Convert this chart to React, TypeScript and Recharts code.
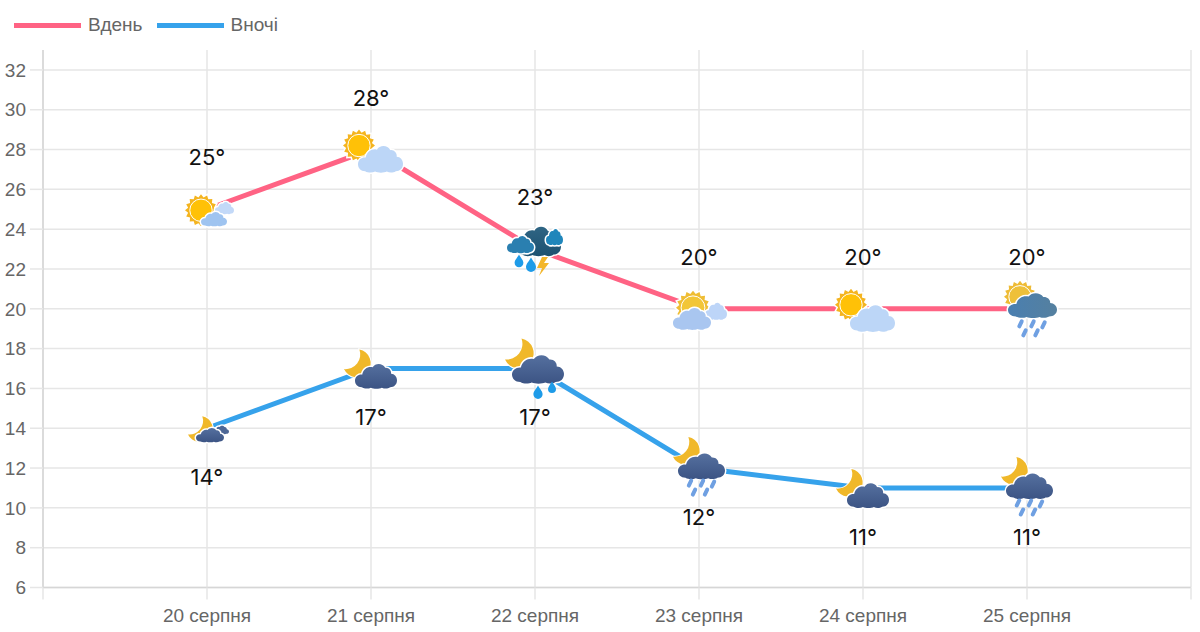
import React from 'react';
import { LineChart, Line, XAxis, YAxis, CartesianGrid, Legend, LabelList } from 'recharts';

const categories = ['20 серпня', '21 серпня', '22 серпня', '23 серпня', '24 серпня', '25 серпня'];
const dayTemps = [25, 28, 23, 20, 20, 20];
const nightTemps = [14, 17, 17, 12, 11, 11];
const dayIcons = ['sunSmall', 'sunCloud', 'storm', 'sunBehind', 'sunCloud', 'sunRain'];
const nightIcons = ['moonSmall', 'moonCloud', 'moonDrops', 'moonRain', 'moonCloud', 'moonRain'];
const yTicks = [6, 8, 10, 12, 14, 16, 18, 20, 22, 24, 26, 28, 30, 32];

// blank category on each side, the lines don't reach the chart edges
const tableData = [
  { name: '' },
  ...categories.map((name, i) => ({
    name,
    day: dayTemps[i],
    night: nightTemps[i],
    dayIcon: dayIcons[i],
    nightIcon: nightIcons[i],
  })),
  { name: ' ' },
];

const GRID = '#e6e6e6';
const AXIS = '#d6d6d6';
const TEXT = '#666666';
const tickFont = { fontFamily: '"Liberation Sans", sans-serif', fontSize: 19, fill: TEXT };
const labelFont = { fontFamily: 'Inter, sans-serif', fontSize: 22, fill: '#111111' };

const CLOUD =
  'M16 57 C6 57 0 50 0 42 C0 33 8 27 17 28 C20 14 32 8 42 11 C48 1 65 0 72 12 C80 11 87 18 86 26 C94 26 100 33 100 41 C100 51 93 57 84 57 C78 61 70 61 64 58 C58 61 44 61 38 58 C32 61 22 61 16 57 Z';

const Cloud = ({ x, y, w, h, fill }: any) => (
  <path
    d={CLOUD}
    transform={`translate(${x} ${y}) scale(${w / 100} ${h / 60})`}
    fill={fill}
    stroke="#ffffff"
    strokeWidth={3}
    paintOrder="stroke"
    vectorEffect="non-scaling-stroke"
  />
);

const Sun = ({ x, y, r, fill = '#ffc107', rays = '#f4b41f' }: any) => {
  const pts: string[] = [];
  for (let i = 0; i < 32; i++) {
    const rad = i % 2 ? r * 0.82 : r;
    const a = (i * Math.PI) / 16;
    pts.push(`${x + rad * Math.cos(a)},${y + rad * Math.sin(a)}`);
  }
  return (
    <g>
      <polygon points={pts.join(' ')} fill={rays} stroke="#ffffff" strokeWidth={3} paintOrder="stroke" />
      <circle cx={x} cy={y} r={r * 0.7} fill={fill} stroke="#ffffff" strokeWidth={1} />
    </g>
  );
};

const Moon = ({ x, y, r }: any) => (
  <path
    d="M0.1 -1 A1 1 0 1 1 -1 0.4 A1.05 1.05 0 0 0 0.1 -1 Z"
    transform={`translate(${x} ${y}) scale(${r})`}
    fill="#f0b82a"
    stroke="#ffffff"
    strokeWidth={2}
    paintOrder="stroke"
    vectorEffect="non-scaling-stroke"
  />
);

const Drop = ({ x, y, s, fill = '#1e9be8' }: any) => (
  <path
    d="M0 -1.5 C0.5 -0.6 1 -0.2 1 0.4 A1 1 0 0 1 -1 0.4 C-1 -0.2 -0.5 -0.6 0 -1.5 Z"
    transform={`translate(${x} ${y}) scale(${s})`}
    fill={fill}
  />
);

const Rain = ({ x, y, fill = '#6fa0e2' }: any) => {
  const dash = (dx: number, dy: number) => (
    <line x1={x + dx - 1.2} y1={y + dy + 2.5} x2={x + dx + 1.2} y2={y + dy - 2.5} />
  );
  return (
    <g stroke={fill} strokeWidth={4} strokeLinecap="round">
      {dash(-12, 3)}
      {dash(0, 3)}
      {dash(11, 4)}
      {dash(-8, 12)}
      {dash(4, 12)}
    </g>
  );
};

const WeatherIcon = ({ kind, cx, cy }: any) => {
  switch (kind) {
    case 'sunSmall':
      return (
        <g>
          <Sun x={cx - 6} y={cy + 1} r={16} />
          <Cloud x={cx + 8} y={cy - 8} w={19} h={13} fill="#c3d9f8" />
          <Cloud x={cx - 6} y={cy + 2} w={26} h={15} fill="#9fc4f0" />
        </g>
      );
    case 'sunCloud':
      return (
        <g>
          <Sun x={cx - 12} y={cy - 4} r={16} />
          <Cloud x={cx - 13} y={cy - 5} w={45} h={28} fill="#bcd6f7" />
        </g>
      );
    case 'sunBehind':
      return (
        <g>
          <Sun x={cx - 6} y={cy - 1} r={17} fill="#f2c637" rays="#efbd33" />
          <Cloud x={cx + 6} y={cy - 7} w={22} h={18} fill="#bdd5f8" />
          <Cloud x={cx - 26} y={cy - 2} w={38} h={23} fill="#a9c6f0" />
        </g>
      );
    case 'sunRain':
      return (
        <g>
          <Sun x={cx - 7} y={cy - 12} r={16} fill="#eec03a" rays="#eebb35" />
          <Cloud x={cx - 19} y={cy - 17} w={49} h={26} fill="url(#rainCloud)" />
          <Rain x={cx + 5.5} y={cy + 12} />
        </g>
      );
    case 'storm':
      return (
        <g>
          <Cloud x={cx - 20} y={cy - 24} w={46} h={31} fill="url(#stormCloud)" />
          <Cloud x={cx + 11} y={cy - 21} w={17} h={17} fill="#1f86bb" />
          <Cloud x={cx - 28} y={cy - 14} w={27} h={18} fill="#2a7fb0" />
          <Drop x={cx - 16} y={cy + 12} s={4.4} />
          <Drop x={cx - 4} y={cy + 16} s={5} />
          <path
            d={`M${cx + 7} ${cy + 8} l-5 11 h5 l-3 8 l10 -13 h-5 l4 -6 Z`}
            fill="#f3b62b"
          />
        </g>
      );
    case 'moonSmall':
      return (
        <g>
          <Moon x={cx - 6} y={cy + 1} r={13} />
          <Cloud x={cx + 6} y={cy - 3} w={16} h={9} fill="#4d6796" />
          <Cloud x={cx - 11} y={cy - 1} w={28} h={15} fill="url(#nightCloud)" />
        </g>
      );
    case 'moonCloud':
      return (
        <g>
          <Moon x={cx - 13} y={cy - 5} r={14} />
          <Cloud x={cx - 16} y={cy - 6} w={42} h={26} fill="url(#nightCloud)" />
        </g>
      );
    case 'moonDrops':
      return (
        <g>
          <Moon x={cx - 15} y={cy - 15} r={15} />
          <Cloud x={cx - 23} y={cy - 15} w={52} h={30} fill="url(#nightCloud)" />
          <Drop x={cx + 3} y={cy + 24} s={4.6} />
          <Drop x={cx + 17} y={cy + 19} s={4} />
        </g>
      );
    case 'moonRain':
      return (
        <g>
          <Moon x={cx - 12} y={cy - 17} r={14} />
          <Cloud x={cx - 21} y={cy - 16} w={47} h={27} fill="url(#nightCloud)" />
          <Rain x={cx + 3} y={cy + 12} />
        </g>
      );
    default:
      return <g />;
  }
};

const renderIcon = (field: string) => (props: any) => {
  const { cx, cy, index, payload } = props;
  if (cx == null || cy == null || !payload[field]) return <g key={index} />;
  return <WeatherIcon key={index} kind={payload[field]} cx={cx} cy={cy} />;
};

const LegendRow = ({ payload }: any) => (
  <div style={{ display: 'flex', alignItems: 'center', height: 50, paddingLeft: 14, boxSizing: 'border-box' }}>
    {(payload || []).map((entry: any) => (
      <div key={entry.value} style={{ display: 'flex', alignItems: 'center', marginRight: 14 }}>
        <span style={{ width: 67, height: 5, background: entry.color, marginRight: 7 }} />
        <span style={{ ...tickFont, color: TEXT }}>{entry.value}</span>
      </div>
    ))}
  </div>
);

const degree = (v: any) => (v == null ? '' : `${v}°`);

export default function App() {
  return (
    <div style={{ position: 'absolute', left: 0, top: 0, width: 1200, height: 632, background: '#ffffff' }}>
      <LineChart width={1200} height={632} data={tableData} margin={{ top: 0, right: 9, bottom: 0, left: 0 }}>
        <defs>
          <linearGradient id="nightCloud" x1="0" y1="0" x2="0" y2="1">
            <stop offset="0%" stopColor="#55709f" />
            <stop offset="100%" stopColor="#3c5484" />
          </linearGradient>
          <linearGradient id="stormCloud" x1="0" y1="0" x2="0" y2="1">
            <stop offset="0%" stopColor="#2f6584" />
            <stop offset="100%" stopColor="#1d5170" />
          </linearGradient>
          <linearGradient id="rainCloud" x1="0" y1="0" x2="1" y2="0">
            <stop offset="0%" stopColor="#4a7fb0" />
            <stop offset="100%" stopColor="#55809f" />
          </linearGradient>
        </defs>
        <Legend verticalAlign="top" align="left" height={50} content={<LegendRow />} wrapperStyle={{ left: 0, top: 0 }} />
        <CartesianGrid
          stroke={GRID}
          strokeWidth={1.5}
          syncWithTicks
          horizontalValues={yTicks}
        />
        <XAxis
          dataKey="name"
          interval={0}
          height={44.5}
          tickSize={12}
          tickMargin={9}
          tick={tickFont}
          tickLine={{ stroke: GRID, strokeWidth: 1.5 }}
          axisLine={{ stroke: AXIS, strokeWidth: 1.5 }}
        />
        <YAxis
          domain={[6, 33]}
          ticks={yTicks}
          interval={0}
          width={43}
          tickSize={13}
          tickMargin={4}
          tick={tickFont}
          tickLine={{ stroke: GRID, strokeWidth: 1.5 }}
          axisLine={{ stroke: AXIS, strokeWidth: 1.5 }}
        />
        <Line
          dataKey="day"
          name="Вдень"
          stroke="#ff6384"
          strokeWidth={5}
          dot={renderIcon('dayIcon')}
          activeDot={false}
          isAnimationActive={false}
        >
          <LabelList dataKey="day" position="top" offset={44} formatter={degree} style={labelFont} />
        </Line>
        <Line
          dataKey="night"
          name="Вночі"
          stroke="#36a2eb"
          strokeWidth={5}
          dot={renderIcon('nightIcon')}
          activeDot={false}
          isAnimationActive={false}
        >
          <LabelList dataKey="night" position="bottom" offset={41} formatter={degree} style={labelFont} />
        </Line>
      </LineChart>
    </div>
  );
}
